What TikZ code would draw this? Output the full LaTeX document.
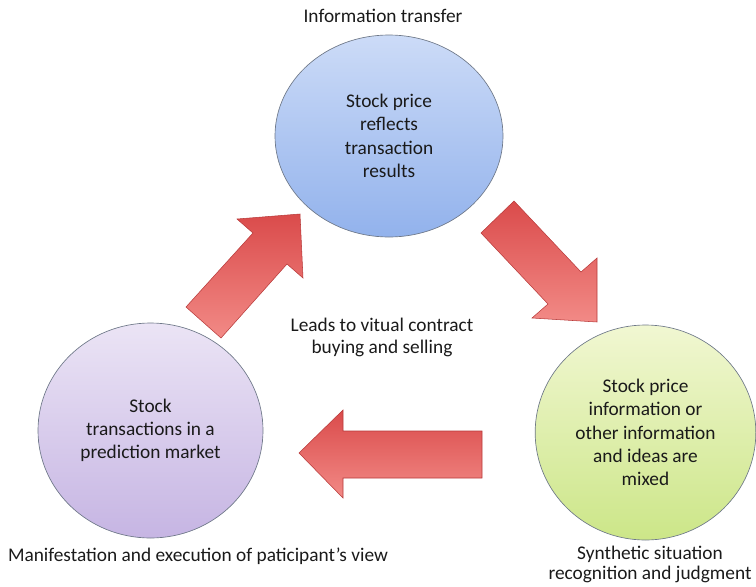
\documentclass[tikz,border=0pt]{standalone}
\usepackage{fontspec}
\setmainfont{Carlito}
\usetikzlibrary{shapes.geometric}
\definecolor{blueT}{HTML}{CCDBF7}
\definecolor{blueB}{HTML}{92B2EC}
\definecolor{purT}{HTML}{EBE4F5}
\definecolor{purB}{HTML}{C6B5E3}
\definecolor{grnT}{HTML}{F1F7D2}
\definecolor{grnB}{HTML}{CCE688}
\definecolor{ringC}{HTML}{6E7888}
\definecolor{arrT}{HTML}{DA4B4B}
\definecolor{arrB}{HTML}{F28A86}
\definecolor{arrE}{HTML}{B83A3A}
\definecolor{txtC}{HTML}{1A1A1A}
\begin{document}
\begin{tikzpicture}[x=0.75pt,y=-0.75pt,
  bubble/.style={ellipse, draw=ringC, line width=0.5pt, align=center, inner sep=0pt,
     font=\fontsize{14.5}{17.5}\selectfont, text=txtC},
  lbl/.style={align=center, inner sep=0pt, font=\fontsize{14.5}{16.5}\selectfont, text=txtC},
  blockarrow/.style={draw=arrE, line width=0.4pt, top color=arrT, bottom color=arrB}]
\useasboundingbox (0,0) rectangle (756,586);
% circles
\node[bubble, minimum width=171pt, minimum height=151.5pt, top color=blueT, bottom color=blueB]
  (top) at (389,136) {Stock price\\reflects\\transaction\\results};
\node[bubble, minimum width=168.75pt, minimum height=161.25pt, top color=purT, bottom color=purB]
  (left) at (150.5,430.5) {Stock\\transactions in a\\prediction market};
\node[bubble, minimum width=165.5pt, minimum height=161.25pt, top color=grnT, bottom color=grnB]
  (right) at (645.5,432.5) {Stock price\\information or\\other information\\and ideas are\\mixed};
% block arrows
\path[blockarrow] (186,307) -- (253,233) -- (237,219) -- (300,214) -- (303,278) -- (287,264) -- (221,338) -- cycle;
\path[blockarrow] (481,233) -- (548,304) -- (532,318) -- (597,322) -- (597,258) -- (581,272) -- (514,201) -- cycle;
\path[blockarrow] (299,453) -- (343,410) -- (343,431) -- (482,431) -- (482,478) -- (343,478) -- (343,498) -- cycle;
% labels
\node[lbl] (ltop) at (383,16) {Information transfer};
\node[lbl] (lmid) at (382,337) {Leads to vitual contract\\buying and selling};
\node[lbl] (lleft) at (198,556) {Manifestation and execution of paticipant’s view};
\node[lbl, font=\fontsize{14.5}{15}\selectfont] (lright) at (650,564) {Synthetic situation\\recognition and judgment};
\end{tikzpicture}
\end{document}
